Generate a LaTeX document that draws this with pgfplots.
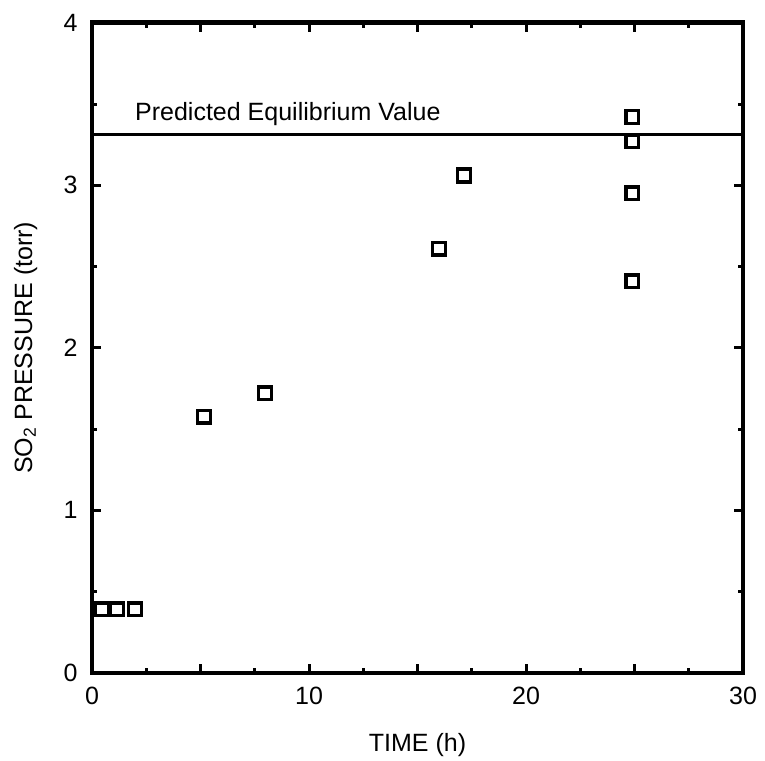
\documentclass[border=0pt]{standalone}
\usepackage{fontspec}
\setmainfont{Liberation Sans}
\usepackage{pgfplots}
\pgfplotsset{compat=1.18}
\begin{document}
\begin{tikzpicture}
\begin{axis}[
  scale only axis,
  width=651pt, height=650pt,
  xmin=0, xmax=30, ymin=0, ymax=4,
  axis line style={line width=4.5pt},
  xtick={0,5,...,30}, xticklabels={0,,10,,20,,30},
  ytick={0,1,...,4},
  minor x tick num=1, minor y tick num=1,
  tick align=inside,
  major tick length=9pt, minor tick length=5pt,
  every tick/.style={black, line width=3pt},
  tick label style={font=\fontsize{25}{30}\selectfont},
  xticklabel style={anchor=north, yshift=-11pt},
  yticklabel style={anchor=east, xshift=-11pt},
  /pgf/number format/assume math mode=true,
  xlabel={TIME (h)}, ylabel={SO\textsubscript{2} PRESSURE (torr)},
  label style={font=\fontsize{25}{30}\selectfont},
  xlabel style={at={(axis description cs:0.5,-0.1215)}, anchor=base},
  ylabel style={at={(axis description cs:-0.092,0.5)}, anchor=base, rotate=0},
  clip=false,
]
\path (axis cs:-4.24,-0.54) rectangle (axis cs:31.01,4.14);
\addplot[black, line width=2.8pt] coordinates {(0,3.31) (30,3.31)};
\node[anchor=base west, inner sep=0pt, font=\fontsize{25}{30}\selectfont] at (axis cs:1.98,3.40) {Predicted Equilibrium Value};
\addplot[only marks, mark=square, mark size=6.3pt, mark options={line width=3.5pt, black, fill=white}] coordinates {
(0.46,0.39) (1.15,0.39) (1.98,0.39)
(5.16,1.575) (7.97,1.72)
(15.99,2.61) (17.14,3.06)
(24.9,3.42) (24.9,3.27) (24.9,2.95) (24.9,2.41)
};
\end{axis}
\end{tikzpicture}
\end{document}
